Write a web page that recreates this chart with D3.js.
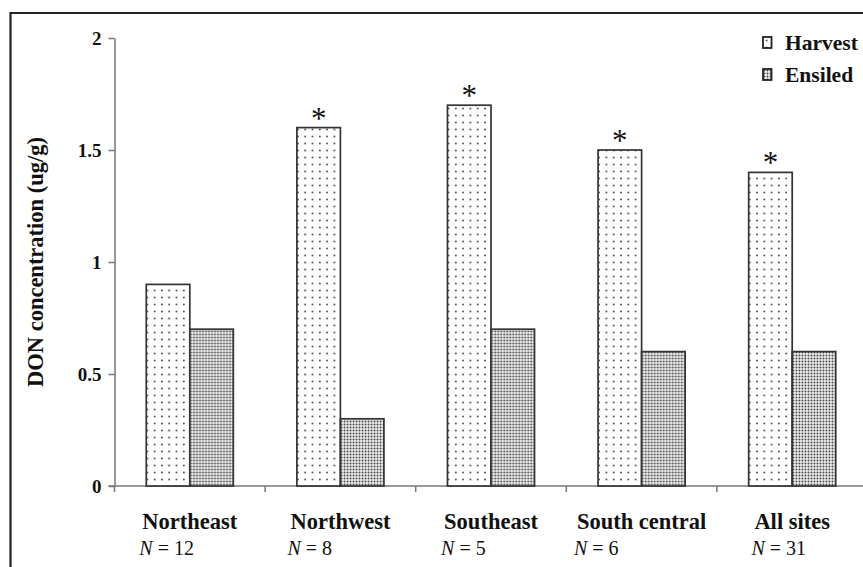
<!DOCTYPE html>
<html>
<head>
<meta charset="utf-8">
<script src="https://cdn.jsdelivr.net/npm/d3@7"></script>
<style>
  html, body { margin: 0; padding: 0; background: #fff; }
  svg { display: block; }
</style>
</head>
<body>
<svg id="chart" width="863" height="567"></svg>
<script>
// DON concentration by region, at harvest and after ensiling
const regions = ["Northeast", "Northwest", "Southeast", "South central", "All sites"];
const sampleSizes = [12, 8, 5, 6, 31];
const harvest = [0.9, 1.6, 1.7, 1.5, 1.4];
const ensiled = [0.7, 0.3, 0.7, 0.6, 0.6];
const significant = [false, true, true, true, true];
const seriesNames = ["Harvest", "Ensiled"];
const yTicks = [0, 0.5, 1, 1.5, 2];

const svg = d3.select("#chart");
const serif = "'Liberation Serif', 'Times New Roman', serif";

// fill patterns: sparse dots for harvest, dense dots for ensiled
const defs = svg.append("defs");
const pH = defs.append("pattern").attr("id", "pat-harvest")
  .attr("patternUnits", "userSpaceOnUse").attr("width", 7.3).attr("height", 7);
pH.append("rect").attr("width", 7.3).attr("height", 7).attr("fill", "#fff");
pH.append("circle").attr("cx", 3.6).attr("cy", 3.5).attr("r", 1).attr("fill", "#555");

const pE = defs.append("pattern").attr("id", "pat-ensiled")
  .attr("patternUnits", "userSpaceOnUse").attr("width", 3).attr("height", 3);
pE.append("rect").attr("width", 3).attr("height", 3).attr("fill", "#eee");
pE.append("circle").attr("cx", 1.5).attr("cy", 1.5).attr("r", 0.9).attr("fill", "#3a3a3a");

const fills = { Harvest: "url(#pat-harvest)", Ensiled: "url(#pat-ensiled)" };

// frame
svg.append("path")
  .attr("d", "M10.5,567 V13 H863")
  .attr("fill", "none").attr("stroke", "#222").attr("stroke-width", 2.2);

const plot = { left: 114.5, top: 38, bottom: 486 };

const y = d3.scaleLinear().domain([0, 2]).range([plot.bottom, plot.top]);
const x0 = d3.scaleBand().domain(regions).range([plot.left, plot.left + 150.6 * regions.length]);
const x1 = d3.scaleBand().domain(seriesNames).range([0, x0.bandwidth()]).paddingOuter(0.73).paddingInner(0);

// y axis
const yAxis = svg.append("g").attr("transform", `translate(${plot.left},0)`)
  .call(d3.axisLeft(y).tickValues(yTicks).tickFormat(d3.format("")).tickSize(6).tickSizeOuter(0));
yAxis.select(".domain").attr("stroke", "#777").attr("stroke-width", 1.5);
yAxis.selectAll(".tick line").attr("stroke", "#777").attr("stroke-width", 1.5);
yAxis.selectAll(".tick text")
  .attr("font-family", serif).attr("font-weight", "bold").attr("font-size", 19)
  .attr("fill", "#111").attr("x", -13).attr("dy", "0.34em");

// x axis line with boundary ticks between categories
const bounds = regions.map(r => x0(r)).concat([x0(regions[regions.length - 1]) + x0.bandwidth()]);
svg.append("line")
  .attr("x1", plot.left - 6).attr("x2", 863).attr("y1", plot.bottom).attr("y2", plot.bottom)
  .attr("stroke", "#777").attr("stroke-width", 1.5);
svg.append("g").selectAll("line").data(bounds).join("line")
  .attr("x1", d => d).attr("x2", d => d)
  .attr("y1", plot.bottom).attr("y2", plot.bottom + 6)
  .attr("stroke", "#777").attr("stroke-width", 1.5);

// bars
const groups = svg.append("g").selectAll("g").data(regions).join("g")
  .attr("transform", d => `translate(${x0(d)},0)`);
groups.selectAll("rect")
  .data((d, i) => [{ s: "Harvest", v: harvest[i] }, { s: "Ensiled", v: ensiled[i] }])
  .join("rect")
  .attr("x", d => x1(d.s))
  .attr("y", d => y(d.v))
  .attr("width", x1.bandwidth())
  .attr("height", d => y(0) - y(d.v))
  .attr("fill", d => fills[d.s])
  .attr("stroke", "#333").attr("stroke-width", 1.7);

// significance markers above harvest bars
groups.filter((d, i) => significant[i]).append("text")
  .attr("x", x1("Harvest") + x1.bandwidth() / 2)
  .attr("y", (d) => y(harvest[regions.indexOf(d)]) + 1)
  .attr("text-anchor", "middle")
  .attr("font-family", serif).attr("font-size", 31).attr("fill", "#111")
  .text("*");

// category labels with sample sizes
regions.forEach((r, i) => {
  const cx = x0(r) + x0.bandwidth() / 2;
  const lbl = svg.append("text")
    .attr("x", cx).attr("y", 529)
    .attr("text-anchor", "middle")
    .attr("font-family", serif).attr("font-weight", "bold").attr("font-size", 22.5)
    .attr("fill", "#111").text(r);
  const bb = lbl.node().getBBox();
  const n = svg.append("text")
    .attr("x", bb.x - 3).attr("y", 555)
    .attr("font-family", serif).attr("font-size", 20).attr("fill", "#111");
  n.append("tspan").attr("font-style", "italic").text("N");
  n.append("tspan").text(" = " + sampleSizes[i]);
});

// y axis title
svg.append("text")
  .attr("transform", `translate(43,${(plot.top + plot.bottom) / 2}) rotate(-90)`)
  .attr("text-anchor", "middle")
  .attr("font-family", serif).attr("font-weight", "bold").attr("font-size", 22.5)
  .attr("fill", "#111")
  .text("DON concentration (ug/g)");

// legend
const legend = svg.append("g").selectAll("g").data(seriesNames).join("g")
  .attr("transform", (d, i) => `translate(763,${37 + i * 32})`);
legend.append("rect")
  .attr("width", 8.5).attr("height", 11)
  .attr("fill", d => fills[d]).attr("stroke", "#222").attr("stroke-width", 1.8);
legend.append("text")
  .attr("x", 22).attr("y", 12.5)
  .attr("font-family", serif).attr("font-weight", "bold").attr("font-size", 21.5)
  .attr("fill", "#111").text(d => d);
</script>
</body>
</html>
